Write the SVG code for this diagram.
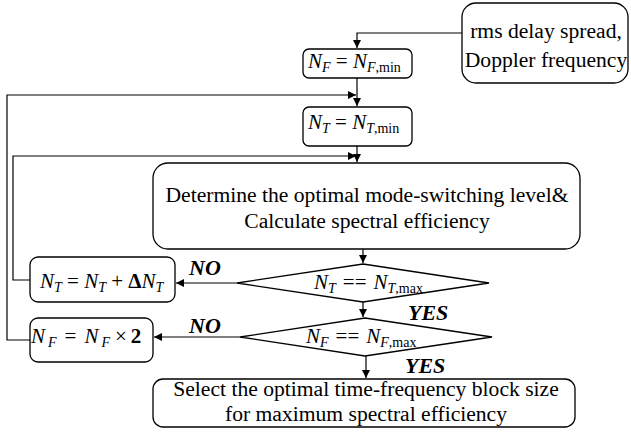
<svg xmlns="http://www.w3.org/2000/svg" width="631" height="435" viewBox="0 0 631 435">
<defs>
<marker id="ah" viewBox="0 0 10 10" refX="10" refY="5" markerWidth="8" markerHeight="8" markerUnits="userSpaceOnUse" orient="auto">
<path d="M0,0 L10,5 L0,10 z" fill="#000"/>
</marker>
<style>
.box{fill:#fff;stroke:#000;stroke-width:1.3}
.ln{fill:none;stroke:#000;stroke-width:1.2}
.t{font-family:"Liberation Serif","Times New Roman",serif;font-size:21.6px;fill:#000}
.m{font-family:"Liberation Serif","Times New Roman",serif;font-size:21px;fill:#000}
.i{font-style:italic}
.s{font-size:14px}
.lab{font-family:"Liberation Serif","Times New Roman",serif;font-size:22px;font-weight:bold;font-style:italic;fill:#000}
</style>
</defs>
<rect width="631" height="435" fill="#fff"/>
<g id="connectors">
<path class="ln" d="M462,33 H357 V48" marker-end="url(#ah)"/>
<path class="ln" d="M357,78 V106" marker-end="url(#ah)"/>
<path class="ln" d="M30,340 H7 V95 H356" marker-end="url(#ah)"/>
<path class="ln" d="M357,146 V162" marker-end="url(#ah)"/>
<path class="ln" d="M30,280 H13 V156 H356" marker-end="url(#ah)"/>
<path class="ln" d="M363,249 V263" marker-end="url(#ah)"/>
<path class="ln" d="M237,283 H176" marker-end="url(#ah)"/>
<path class="ln" d="M363,302 V317" marker-end="url(#ah)"/>
<path class="ln" d="M240,337 H154" marker-end="url(#ah)"/>
<path class="ln" d="M366,355 V378" marker-end="url(#ah)"/>
<text class="lab" x="189" y="275">NO</text>
<text class="lab" x="189" y="333">NO</text>
<text class="lab" x="408" y="320">YES</text>
<text class="lab" x="405" y="373">YES</text>
</g>
<g id="input">
<rect class="box" x="462" y="3" width="166" height="80" rx="14"/>
<text class="t" x="546" y="38" text-anchor="middle">rms delay spread,</text>
<text class="t" x="546" y="67" text-anchor="middle">Doppler frequency</text>
</g>
<g id="nf-init">
<rect class="box" x="303" y="49" width="109" height="29" rx="6"/>
<text class="m" x="308" y="68"><tspan class="i">N</tspan><tspan class="i s" dy="4">F</tspan><tspan dy="-4"> = </tspan><tspan class="i">N</tspan><tspan class="i s" dy="4">F</tspan><tspan class="s">,min</tspan></text>
</g>
<g id="nt-init">
<rect class="box" x="303" y="107" width="109" height="39" rx="6"/>
<text class="m" x="308" y="129"><tspan class="i">N</tspan><tspan class="i s" dy="4">T</tspan><tspan dy="-4"> = </tspan><tspan class="i">N</tspan><tspan class="i s" dy="4">T</tspan><tspan class="s">,min</tspan></text>
</g>
<g id="determine">
<rect class="box" x="153" y="163" width="427" height="86" rx="15"/>
<text class="t" x="367" y="202" text-anchor="middle">Determine the optimal mode-switching level&amp;</text>
<text class="t" x="367" y="228" text-anchor="middle">Calculate spectral efficiency</text>
</g>
<g id="nt-check">
<polygon class="box" points="363,264 489,283 363,302 237,283"/>
<text class="m" x="314" y="289"><tspan class="i">N</tspan><tspan class="i s" dy="4">T</tspan><tspan dy="-4" dx="7">==</tspan><tspan class="i" dx="7">N</tspan><tspan class="i s" dy="4">T</tspan><tspan class="s">,max</tspan></text>
</g>
<g id="nt-inc">
<rect class="box" x="30" y="257" width="145" height="45" rx="8"/>
<text class="m" x="40" y="288"><tspan class="i">N</tspan><tspan class="i s" dy="4">T</tspan><tspan dy="-4"> = </tspan><tspan class="i">N</tspan><tspan class="i s" dy="4">T</tspan><tspan dy="-4"> + </tspan><tspan font-weight="bold">Δ</tspan><tspan class="i">N</tspan><tspan class="i s" dy="4">T</tspan></text>
</g>
<g id="nf-check">
<polygon class="box" points="365,318 492,337 365,356 240,337"/>
<text class="m" x="306" y="343"><tspan class="i">N</tspan><tspan class="i s" dy="4">F</tspan><tspan dy="-4" dx="7">==</tspan><tspan class="i" dx="7">N</tspan><tspan class="i s" dy="4">F</tspan><tspan class="s">,max</tspan></text>
</g>
<g id="nf-double">
<rect class="box" x="30" y="318" width="123" height="44" rx="8"/>
<text class="m" x="31" y="343"><tspan class="i">N</tspan><tspan class="i s" dy="4" dx="3">F</tspan><tspan dy="-4" dx="8">=</tspan><tspan class="i" dx="8">N</tspan><tspan class="i s" dy="4" dx="3">F</tspan><tspan dy="-4" dx="5">×</tspan><tspan font-weight="bold" dx="4">2</tspan></text>
</g>
<g id="select">
<rect class="box" x="153" y="379" width="422" height="48" rx="10"/>
<text class="t" x="366" y="396" text-anchor="middle">Select the optimal time-frequency block size</text>
<text class="t" x="366" y="421" text-anchor="middle">for maximum spectral efficiency</text>
</g>
</svg>
